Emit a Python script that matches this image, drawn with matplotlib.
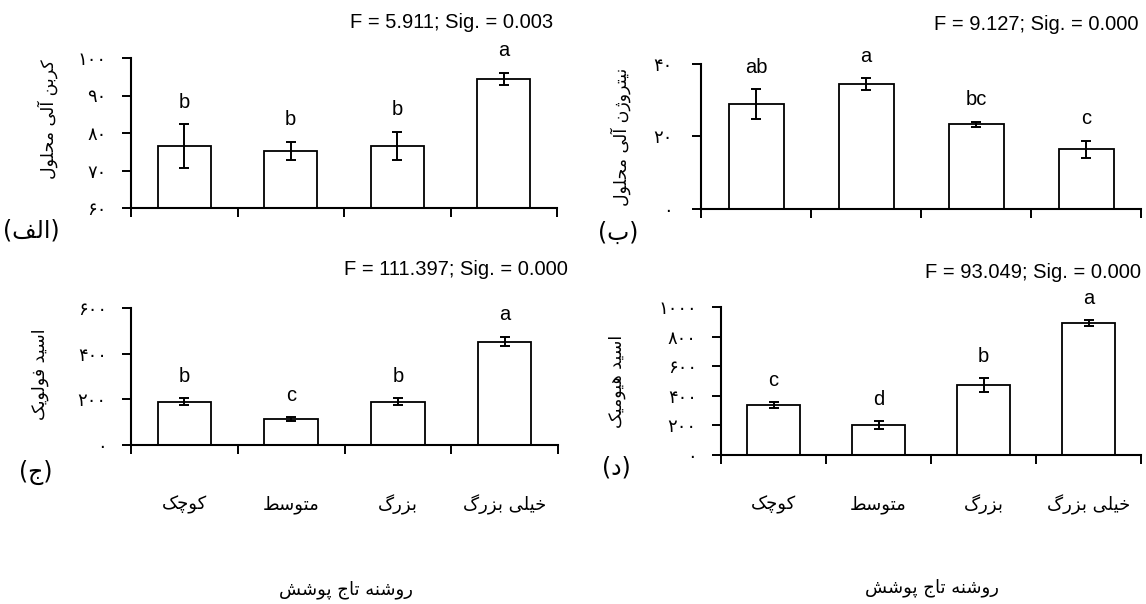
import matplotlib
matplotlib.use('Agg')
import matplotlib.pyplot as plt
import matplotlib.transforms as mtransforms
from matplotlib.ticker import FuncFormatter, FixedLocator

# ---------------- data ----------------
categories = ['کوچک', 'متوسط', 'بزرگ', 'خیلی بزرگ']
xlabel_text = 'روشنه تاج پوشش'

doc_mean = [76.5, 75.3, 76.5, 94.5]
doc_err = [5.9, 2.4, 3.8, 1.6]
doc_letters = ['b', 'b', 'b', 'a']
doc_stat = 'F = 5.911; Sig. = 0.003'
doc_label = 'کربن آلی محلول'
doc_tag = '(الف)'
doc_ticks = [60, 70, 80, 90, 100]

don_mean = [28.9, 34.4, 23.4, 16.5]
don_err = [4.1, 1.6, 0.7, 2.3]
don_letters = ['ab', 'a', 'bc', 'c']
don_stat = 'F = 9.127; Sig. = 0.000'
don_label = 'نیتروژن آلی محلول'
don_tag = '(ب)'
don_ticks = [0, 20, 40]

fulvic_mean = [190, 114, 190, 453]
fulvic_err = [15, 8, 15, 20]
fulvic_letters = ['b', 'c', 'b', 'a']
fulvic_stat = 'F = 111.397; Sig. = 0.000'
fulvic_label = 'اسید فولویک'
fulvic_tag = '(ج)'
fulvic_ticks = [0, 200, 400, 600]

humic_mean = [337, 202, 472, 892]
humic_err = [19, 25, 45, 20]
humic_letters = ['c', 'd', 'b', 'a']
humic_stat = 'F = 93.049; Sig. = 0.000'
humic_label = 'اسید هیومیک'
humic_tag = '(د)'
humic_ticks = [0, 200, 400, 600, 800, 1000]

# ---------------- simple Persian shaping (matplotlib has no bidi/shaping) -------------
FORMS = {
    '\u0627': ('\uFE8D', '\uFE8E', None, None),
    '\u0622': ('\uFE81', '\uFE82', None, None),
    '\u0628': ('\uFE8F', '\uFE90', '\uFE91', '\uFE92'),
    '\u067E': ('\uFB56', '\uFB57', '\uFB58', '\uFB59'),
    '\u062A': ('\uFE95', '\uFE96', '\uFE97', '\uFE98'),
    '\u062C': ('\uFE9D', '\uFE9E', '\uFE9F', '\uFEA0'),
    '\u0686': ('\uFB7A', '\uFB7B', '\uFB7C', '\uFB7D'),
    '\u062D': ('\uFEA1', '\uFEA2', '\uFEA3', '\uFEA4'),
    '\u062E': ('\uFEA5', '\uFEA6', '\uFEA7', '\uFEA8'),
    '\u062F': ('\uFEA9', '\uFEAA', None, None),
    '\u0631': ('\uFEAD', '\uFEAE', None, None),
    '\u0632': ('\uFEAF', '\uFEB0', None, None),
    '\u0698': ('\uFB8A', '\uFB8B', None, None),
    '\u0633': ('\uFEB1', '\uFEB2', '\uFEB3', '\uFEB4'),
    '\u0634': ('\uFEB5', '\uFEB6', '\uFEB7', '\uFEB8'),
    '\u0637': ('\uFEC1', '\uFEC2', '\uFEC3', '\uFEC4'),
    '\u0641': ('\uFED1', '\uFED2', '\uFED3', '\uFED4'),
    '\u06A9': ('\uFB8E', '\uFB8F', '\uFB90', '\uFB91'),
    '\u06AF': ('\uFB92', '\uFB93', '\uFB94', '\uFB95'),
    '\u0644': ('\uFEDD', '\uFEDE', '\uFEDF', '\uFEE0'),
    '\u0645': ('\uFEE1', '\uFEE2', '\uFEE3', '\uFEE4'),
    '\u0646': ('\uFEE5', '\uFEE6', '\uFEE7', '\uFEE8'),
    '\u0647': ('\uFEE9', '\uFEEA', '\uFEEB', '\uFEEC'),
    '\u0648': ('\uFEED', '\uFEEE', None, None),
    '\u06CC': ('\uFBFC', '\uFBFD', '\uFBFE', '\uFBFF'),
}


def shape(s):
    s = s.replace('\u0643', '\u06A9').replace('\u064A', '\u06CC')

    def dual(c):
        return c in FORMS and FORMS[c][2] is not None

    out = []
    for i, c in enumerate(s):
        if c not in FORMS:
            out.append(c)
            continue
        prev = s[i - 1] if i > 0 else ''
        nxt = s[i + 1] if i < len(s) - 1 else ''
        cp = dual(prev)
        cn = dual(c) and (nxt in FORMS)
        iso, fin, ini, med = FORMS[c]
        if cp and cn:
            g = med
        elif cp:
            g = fin
        elif cn:
            g = ini
        else:
            g = iso
        out.append(g)
    vis = ''.join(reversed(out))
    return vis.translate(str.maketrans('()', ')('))


PERSIAN_DIGITS = str.maketrans('0123456789', '۰۱۲۳۴۵۶۷۸۹')
fa_fmt = FuncFormatter(lambda v, p: str(int(round(v))).translate(PERSIAN_DIGITS))

# ---------------- figure ----------------
plt.rcParams['font.family'] = ['DejaVu Sans']
LATIN = 'Liberation Sans'
W, H = 1146, 604
fig = plt.figure(figsize=(W / 100, H / 100), dpi=100)


def px_axes(l, t, r, b):
    return fig.add_axes([l / W, 1 - b / H, (r - l) / W, (b - t) / H])


panels = [
    dict(box=(131, 58, 557, 208), mean=doc_mean, err=doc_err, let=doc_letters, stat=doc_stat,
         label=doc_label, tag=doc_tag, ticks=doc_ticks, statpos=(553, 22), labpos=(48, 119),
         tagpos=(31, 230), pad=11, xcats=False),
    dict(box=(701, 64, 1141, 209), mean=don_mean, err=don_err, let=don_letters, stat=don_stat,
         label=don_label, tag=don_tag, ticks=don_ticks, statpos=(1138, 25), labpos=(621, 137),
         tagpos=(618, 233), pad=14, xcats=False),
    dict(box=(131, 308, 558, 445), mean=fulvic_mean, err=fulvic_err, let=fulvic_letters,
         stat=fulvic_stat, label=fulvic_label, tag=fulvic_tag, ticks=fulvic_ticks,
         statpos=(568, 270), labpos=(40, 374), tagpos=(36, 472), pad=11, xcats=True,
         xlabpos=(346, 590)),
    dict(box=(721, 307, 1141, 455), mean=humic_mean, err=humic_err, let=humic_letters,
         stat=humic_stat, label=humic_label, tag=humic_tag, ticks=humic_ticks,
         statpos=(1141, 273), labpos=(617, 381), tagpos=(616, 468), pad=11, xcats=True,
         xlabpos=(932, 588)),
]

x = list(range(len(categories)))
for p in panels:
    ax = px_axes(*p['box'])
    ax.bar(x, p['mean'], width=0.5, color='white', edgecolor='black', linewidth=1.3, zorder=2)
    ax.errorbar(x, p['mean'], yerr=p['err'], fmt='none', ecolor='black', elinewidth=1.4,
                capsize=3.8, capthick=1.4, zorder=3)
    for xi, m, e, lt in zip(x, p['mean'], p['err'], p['let']):
        ax.annotate(lt, (xi, m + e), xytext=(0, 9), textcoords='offset points',
                    ha='center', va='bottom', fontsize=14.5, family=LATIN, zorder=4)
    ax.set_xlim(-0.5, len(categories) - 0.5)
    ax.set_ylim(p['ticks'][0], p['ticks'][-1])
    ax.yaxis.set_major_locator(FixedLocator(p['ticks']))
    ax.yaxis.set_major_formatter(fa_fmt)
    ax.set_xticks([i - 0.5 for i in range(len(categories) + 1)])
    ax.set_xticklabels([])
    for s in ('top', 'right'):
        ax.spines[s].set_visible(False)
    for s in ('left', 'bottom'):
        ax.spines[s].set_linewidth(1.5)
    ax.tick_params(axis='both', direction='out', length=6.5, width=1.4, color='black')
    ax.tick_params(axis='y', labelsize=13, pad=p['pad'])

    sx, sy = p['statpos']
    fig.text(sx / W, 1 - sy / H, p['stat'], ha='right', va='center', fontsize=14.5,
             family=LATIN)
    lx, ly = p['labpos']
    fig.text(lx / W, 1 - ly / H, shape(p['label']), rotation=90, ha='center', va='center',
             fontsize=12.5)
    tx, ty = p['tagpos']
    fig.text(tx / W, 1 - ty / H, shape(p['tag']), ha='center', va='center', fontsize=17)

    if p['xcats']:
        trans = mtransforms.blended_transform_factory(ax.transData, fig.transFigure)
        for xi, c in zip(x, categories):
            ax.text(xi, 1 - 505 / H, shape(c), transform=trans, ha='center', va='center',
                    fontsize=13)
        xx, xy = p['xlabpos']
        fig.text(xx / W, 1 - xy / H, shape(xlabel_text), ha='center', va='center',
                 fontsize=13)

fig.savefig('out.png', dpi=100, facecolor='white')
